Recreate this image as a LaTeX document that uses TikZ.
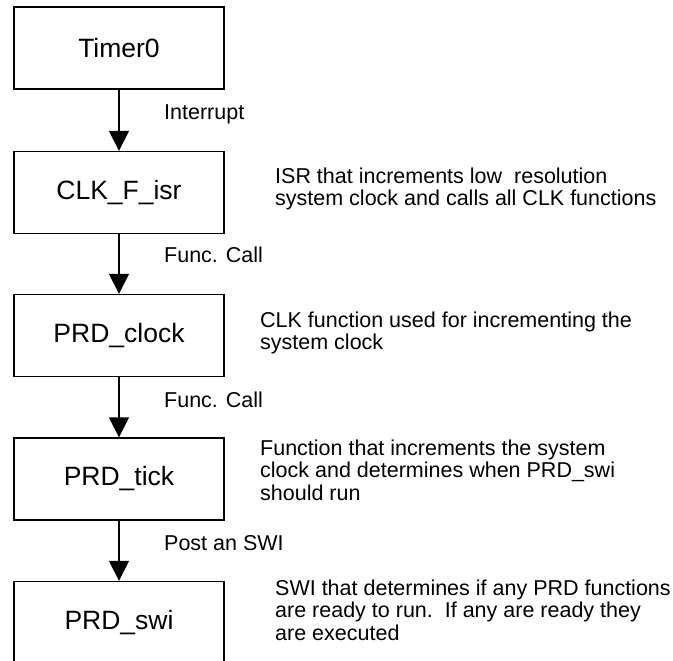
\documentclass[tikz,border=0pt]{standalone}
\usepackage{fontspec}
\setmainfont{Liberation Sans}
\usetikzlibrary{arrows.meta}
\tikzset{
  box/.style={draw=black, line width=1.3pt, minimum width=210pt, minimum height=82pt,
    inner sep=0pt, font=\fontsize{26.5}{30}\selectfont},
  arr/.style={line width=1.3pt, -{Triangle[length=20pt,width=20pt]}},
  lbl/.style={anchor=base west, inner sep=0pt, font=\fontsize{21.5}{22.5}\selectfont},
  desc/.style={anchor=base west, inner sep=0pt, font=\fontsize{21.5}{22.5}\selectfont}
}
\newcommand{\desclines}[1]{\begin{tabular}[t]{@{}l@{}}#1\end{tabular}}
\begin{document}
\begin{tikzpicture}[x=1pt,y=1pt]
\useasboundingbox (0,0) rectangle (673,-661);
\clip (0,0) rectangle (673,-661);
\fill[white] (0,0) rectangle (673,-661);
% boxes
\node[box] (t0)   at (119,-48)    {Timer0};
\node[box] (clk)  at (119,-192.5) {CLK\_F\_isr};
\node[box] (prdc) at (119,-335.5) {PRD\_clock};
\node[box] (prdt) at (119,-479)   {PRD\_tick};
\node[box] (prds) at (119,-622.5) {PRD\_swi};
% connectors
\draw[arr] (t0) -- (clk);
\draw[arr] (clk) -- (prdc);
\draw[arr] (prdc) -- (prdt);
\draw[arr] (prdt) -- (prds);
% connector labels
\node[lbl] (l1) at (164,-120) {Interrupt};
\node[lbl] (l2) at (164,-262) {Func. Call};
\node[lbl] (l3) at (164,-407) {Func. Call};
\node[lbl] (l4) at (164,-550) {Post an SWI};
% descriptions
\node[desc] (d1) at (275,-183) {\desclines{ISR that increments low\ \ resolution\\system clock and calls all CLK functions}};
\node[desc] (d2) at (260,-327) {\desclines{CLK function used for incrementing the\\system clock}};
\node[desc] (d3) at (260,-455) {\desclines{Function that increments the system\\clock and determines when PRD\_swi\\should run}};
\node[desc] (d4) at (275,-595) {\desclines{SWI that determines if any PRD functions\\are ready to run.\ \ If any are ready they\\are executed}};
\end{tikzpicture}
\end{document}
